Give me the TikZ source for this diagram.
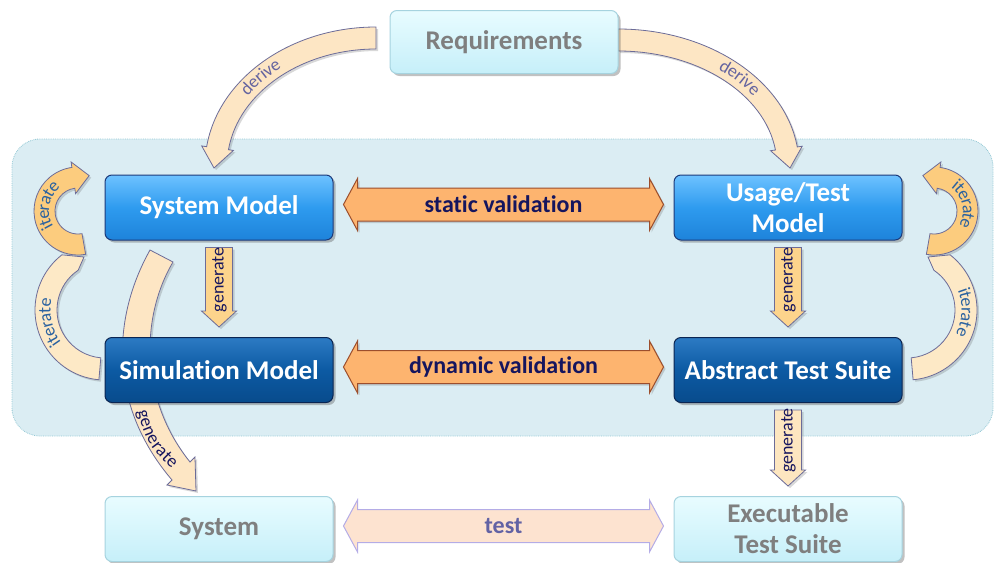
\documentclass[tikz,border=0pt]{standalone}
\usepackage{fontspec}
\setmainfont{Carlito}[Ligatures=NoCommon]
\usetikzlibrary{calc,shadows,decorations.text}

\definecolor{panelfill}{HTML}{DBEDF3}
\definecolor{paneledge}{HTML}{93C8D4}
\definecolor{lighttop}{HTML}{E8FCFF}
\definecolor{lightbot}{HTML}{C6EFF9}
\definecolor{lightedge}{HTML}{A6D3DF}
\definecolor{greytext}{HTML}{7F7F7F}
\definecolor{bluetop}{HTML}{6EC2FF}
\definecolor{bluemid}{HTML}{2E9BEF}
\definecolor{bluebot}{HTML}{1E83DA}
\definecolor{blueedge}{HTML}{1D3A7A}
\definecolor{darktop}{HTML}{2C7BC4}
\definecolor{darkmid}{HTML}{0C5AA3}
\definecolor{darkbot}{HTML}{084B8C}
\definecolor{darkedge}{HTML}{0A2552}
\definecolor{valfill}{HTML}{FDB46F}
\definecolor{valedge}{HTML}{9C4E2C}
\definecolor{navytext}{HTML}{15155E}
\definecolor{testfill}{HTML}{FDE3D0}
\definecolor{testedge}{HTML}{B4ACE6}
\definecolor{testtext}{HTML}{6262A4}
\definecolor{genfill}{HTML}{FDD48C}
\definecolor{genpale}{HTML}{FDE6C0}
\definecolor{arcedge}{HTML}{6C6C98}
\definecolor{iterfill}{HTML}{FCCC7E}
\definecolor{iterpale}{HTML}{FDE9C6}
\definecolor{itertext}{HTML}{2A62A0}
\definecolor{derivefill}{HTML}{FDE6C4}
\definecolor{derivetext}{HTML}{6464A0}

\newcommand\boxfont{\fontsize{27}{31}\selectfont\bfseries}
\newcommand\smallfont{\fontsize{18}{18}\selectfont}
% keeps t and i as separate glyphs
\newcommand\tsep{\kern0pt }

% curved band arrow along an elliptic arc:
% #1 style, #2 centre, #3 x radius, #4 y radius, #5 half width,
% #6 start angle, #7 end angle, #8 head half width, #9 tip
\newcommand\bandarrow[9]{%
  \pgfmathsetmacro\bandXo{#3+#5}\pgfmathsetmacro\bandYo{#4+#5}%
  \pgfmathsetmacro\bandXi{#3-#5}\pgfmathsetmacro\bandYi{#4-#5}%
  \pgfmathsetmacro\bandXh{#3+#8}\pgfmathsetmacro\bandYh{#4+#8}%
  \pgfmathsetmacro\bandXl{#3-#8}\pgfmathsetmacro\bandYl{#4-#8}%
  \path[#1] ($(#2)+(#6:{\bandXo} and {\bandYo})$)
    arc[start angle=#6, end angle=#7, x radius=\bandXo, y radius=\bandYo]
    -- ($(#2)+(#7:{\bandXh} and {\bandYh})$) -- #9
    -- ($(#2)+(#7:{\bandXl} and {\bandYl})$)
    -- ($(#2)+(#7:{\bandXi} and {\bandYi})$)
    arc[start angle=#7, end angle=#6, x radius=\bandXi, y radius=\bandYi]
    -- cycle;}

% horizontal double-headed block arrow between two boxes:
% #1 left box, #2 right box, #3 style, #4 label style, #5 label name, #6 label
\newcommand\dblarrow[6]{%
  \path[#3] let \p1=(#1.east), \p2=(#2.west) in
    (\x1+10pt,\y1+3pt) -- (\x1+24pt,\y1+29pt) -- (\x1+24pt,\y1+19.5pt)
    -- (\x2-24pt,\y2+19.5pt) -- (\x2-24pt,\y2+29pt) -- (\x2-10pt,\y2+3pt)
    -- (\x2-24pt,\y2-23pt) -- (\x2-24pt,\y2-13.5pt)
    -- (\x1+24pt,\y1-13.5pt) -- (\x1+24pt,\y1-23pt) -- cycle;
  \node[#4] (#5) at ($(#1.east)!0.5!(#2.west)+(0,-3)$) {#6};}

% vertical block arrow from one box down to the next:
% #1 upper box, #2 lower box, #3 style, #4 label name
\newcommand\vgen[4]{%
  \path[#3] ($(#1.south)+(-13.5,7)$) -- ($(#2.north)+(-13.5,-26)$)
    -- ($(#2.north)+(-17.5,-26)$) -- ($(#2.north)+(0,-10)$)
    -- ($(#2.north)+(17.5,-26)$) -- ($(#2.north)+(13.5,-26)$)
    -- ($(#1.south)+(13.5,7)$) -- cycle;
  \node[gentext] (#4) at ($(#1.south)!0.5!(#2.north)+(0.5,-9)$) {generate};}

% text set along a path
\newcommand\pathlabel[3]{% #1 colour, #2 text, #3 path
  \path[decorate, decoration={text along path, text align=center, raise=-4.5pt,
    text color=#1, text={|\smallfont|#2}}] #3;}

\begin{document}
\begin{tikzpicture}[x=1pt,y=-1pt,
  softshadow/.style={drop shadow={shadow xshift=2.5pt, shadow yshift=-2.5pt, opacity=0.35, fill=black!70}},
  arrowshadow/.style={drop shadow={shadow xshift=2pt, shadow yshift=-2pt, opacity=0.22, fill=black!70}},
  box/.style={rounded corners=7pt, minimum width=228pt, minimum height=65pt, inner sep=0pt,
    align=center, font=\boxfont, line width=1pt, softshadow},
  lightbox/.style={box, draw=lightedge, top color=lighttop, bottom color=lightbot, text=greytext},
  bluebox/.style={box, draw=blueedge, top color=bluetop, bottom color=bluebot, middle color=bluemid, text=white},
  darkbox/.style={box, draw=darkedge, top color=darktop, bottom color=darkbot, middle color=darkmid, text=white},
  valarrow/.style={fill=valfill, draw=valedge, line width=1pt, arrowshadow},
  testarrow/.style={fill=testfill, draw=testedge, line width=1pt},
  valtext/.style={font=\fontsize{24}{24}\selectfont\bfseries, text=navytext},
  testlabel/.style={font=\fontsize{24}{24}\selectfont\bfseries, text=testtext},
  genarrow/.style={fill=genfill, draw=arcedge, line width=0.8pt, arrowshadow},
  genpalearrow/.style={fill=genpale, draw=arcedge, line width=0.8pt, arrowshadow},
  gentext/.style={font=\smallfont, text=navytext, rotate=90, inner sep=0pt},
  derivearrow/.style={fill=derivefill, draw=arcedge, line width=0.8pt, arrowshadow},
  iterarrow/.style={fill=iterfill, draw=arcedge, line width=0.8pt, arrowshadow},
  iterpalearrow/.style={fill=iterpale, draw=arcedge, line width=0.8pt, arrowshadow},
  curvegen/.style={fill=derivefill, draw=arcedge, line width=0.8pt, arrowshadow}
]
\useasboundingbox (0,0) rectangle (995,562);

% background panel of the modelling level
\path[fill=panelfill, draw=paneledge, line width=0.8pt, densely dotted, rounded corners=28pt]
  (12,139) rectangle (993,436);

% centres of the curved arrows
\coordinate (dl) at (376,166);
\coordinate (dr) at (618,166);
\coordinate (icl) at (78,211);
\coordinate (icr) at (934,211);
\coordinate (jcl) at (105,310);
\coordinate (jcr) at (907,310);

% derive arrows
\bandarrow{derivearrow}{dl}{160}{128}{11}{270}{188}{16}{(214,168)}
\bandarrow{derivearrow}{dr}{170}{126}{11}{270}{352}{16}{(790,168)}
\pathlabel{derivetext}{derive}{($(dl)+(195:160 and 128)$) arc[start angle=195, end angle=250, x radius=160, y radius=128]}
\pathlabel{derivetext}{derive}{($(dr)+(290:170 and 126)$) arc[start angle=290, end angle=345, x radius=170, y radius=126]}

% iterate arrows, upper pair with heads
\bandarrow{iterarrow}{icl}{33.5}{33.5}{10.5}{80}{262}{16}{($(icl)+(262:33.5)+(352:16)$)}
\bandarrow{iterarrow}{icr}{33.5}{33.5}{10.5}{100}{-82}{16}{($(icr)+(-82:33.5)+(-172:16)$)}

% iterate arrows, lower pair
\path[iterpalearrow] ($(jcl)+(95:70)$) arc[start angle=95, end angle=232, radius=70]
  -- (84,257) -- ($(jcl)+(236:48)$) arc[start angle=236, end angle=95, radius=48] -- cycle;
\path[iterpalearrow] ($(jcr)+(85:70)$) arc[start angle=85, end angle=-52, radius=70]
  -- (928,257) -- ($(jcr)+(-56:48)$) arc[start angle=-56, end angle=85, radius=48] -- cycle;

% iterate labels
\pathlabel{itertext}{iterate}{($(icl)+(135:33.5)$) arc[start angle=135, end angle=245, radius=33.5]}
\pathlabel{itertext}{iterate}{($(icr)+(-67:33.5)$) arc[start angle=-67, end angle=43, radius=33.5]}
\pathlabel{itertext}{iterate}{($(jcl)+(125:59)$) arc[start angle=125, end angle=210, radius=59]}
\pathlabel{itertext}{iterate}{($(jcr)+(-40:59)$) arc[start angle=-40, end angle=45, radius=59]}

% generate arrow from the system model down to the system
\path[curvegen] (150,250) .. controls (112,318) and (108,405) .. (172,480)
  -- (167,485) -- (196,491) -- (195,457) -- (190,462)
  .. controls (140,400) and (140,318) .. (173,262) -- cycle;

% boxes
\node[lightbox, minimum height=63pt] (req) at (504,42) {Requirements};
\node[bluebox] (sysm) at (219,207.5) {System Model};
\node[bluebox] (usage) at (788,207.5) {Usage/Test\\Model};
\node[darkbox] (sim) at (219,370) {Simulat\tsep ion Model};
\node[darkbox] (ats) at (788,370) {Abstract Test Suite};
\node[lightbox] (sys) at (219,529) {System};
\node[lightbox] (exe) at (788,529) {Executable\\Test Suite};

% label of the curved generate arrow, below the simulation model
\pathlabel{navytext}{generate}{(139,398) .. controls (150,442) .. (184,474)}

% validation and test arrows
\dblarrow{sysm}{usage}{valarrow}{valtext}{staticlbl}{stat\tsep ic validat\tsep ion}
\dblarrow{sim}{ats}{valarrow}{valtext}{dynamiclbl}{dynamic validat\tsep ion}
\dblarrow{sys}{exe}{testarrow}{testlabel}{testlbl}{test}

% straight generate arrows
\vgen{sysm}{sim}{genarrow}{genleft}
\vgen{usage}{ats}{genarrow}{genright}
\vgen{ats}{exe}{genpalearrow}{genexec}
\end{tikzpicture}
\end{document}
